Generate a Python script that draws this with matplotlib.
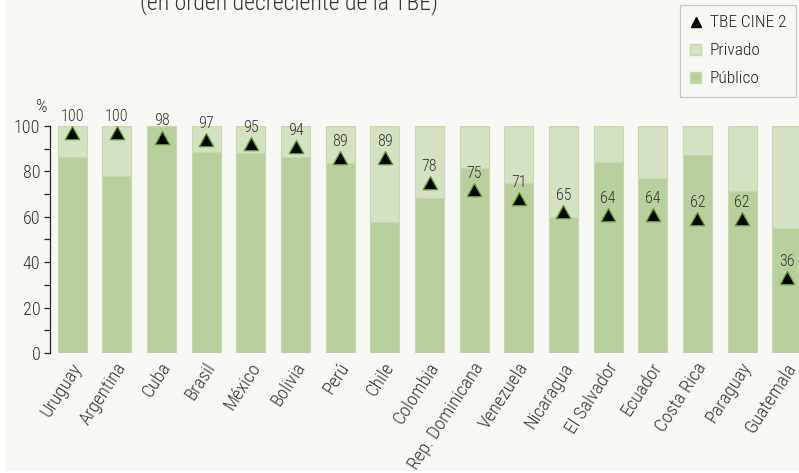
import numpy as np
import matplotlib.pyplot as plt
from matplotlib.path import Path
from matplotlib.lines import Line2D
from matplotlib.patches import Patch, Rectangle
from matplotlib.transforms import ScaledTranslation

plt.rcParams['font.family'] = ['Roboto Condensed', 'PT Sans Narrow', 'Archivo Narrow',
                               'Liberation Sans Narrow', 'DejaVu Sans']
plt.rcParams['font.weight'] = 'light'

paises = ['Uruguay', 'Argentina', 'Cuba', 'Brasil', 'México', 'Bolivia', 'Perú',
          'Chile', 'Colombia', 'Rep. Dominicana', 'Venezuela', 'Nicaragua',
          'El Salvador', 'Ecuador', 'Costa Rica', 'Paraguay', 'Guatemala']
publico = [86.2, 78.0, 100.0, 88.6, 87.9, 86.2, 83.6, 57.7, 68.5, 81.4, 74.8,
           59.9, 84.2, 77.0, 87.1, 71.3, 54.9]
tbe = [100, 100, 98, 97, 95, 94, 89, 89, 78, 75, 71, 65, 64, 64, 62, 62, 36]

publico = np.array(publico)
privado = 100 - publico
x = np.arange(len(paises))

c_pub = '#b9d09e'
c_priv = '#d4e1c3'
c_edge = '#c6d8b0'
bg = '#f7f7f3'

fig = plt.figure(figsize=(7.99, 4.73), dpi=100, facecolor='white')
fig.patches.append(Rectangle((6 / 799, 2 / 473), 1, 1, transform=fig.transFigure,
                             facecolor=bg, edgecolor='none', zorder=-10))
ax = fig.add_axes([50 / 799, 120 / 473, 759 / 799, 227 / 473])
ax.set_facecolor('none')

ax.bar(x, publico, width=0.65, color=c_pub, edgecolor=c_edge, linewidth=0.8)
ax.bar(x, privado, bottom=publico, width=0.65, color=c_priv, edgecolor=c_edge,
       linewidth=0.8)

# triangulo con el vertice superior en el valor
tri = Path([(-0.55, -1.0), (0.55, -1.0), (0.0, 0.0), (-0.55, -1.0)],
           [Path.MOVETO, Path.LINETO, Path.LINETO, Path.CLOSEPOLY])
ax.plot(x, tbe, linestyle='none', marker=tri, markersize=19, color='black',
        markeredgecolor='#5e9e2e', markeredgewidth=0.9, clip_on=False)
for xi, v in zip(x, tbe):
    ax.annotate(str(v), (xi, v), xytext=(0, 1.5), textcoords='offset points',
                ha='center', va='bottom', fontsize=11.5, color='#333333',
                annotation_clip=False)

ax.set_xlim(-0.5, len(paises) - 0.5)
ax.set_ylim(0, 100)
ax.set_yticks(np.arange(0, 101, 20))
ax.set_yticks(np.arange(0, 101, 10), minor=True)
ax.tick_params(axis='y', which='both', length=4, width=0.9, colors='#222222',
               labelsize=13, pad=3)
ax.tick_params(axis='y', which='major', labelcolor='#333333')
ax.set_xticks(x)
ax.set_xticklabels(paises, rotation=57, ha='right', va='center',
                   rotation_mode='anchor', fontsize=13.5, color='#333333')
ax.tick_params(axis='x', length=0, pad=8)
# corre un poco las etiquetas a la derecha
shift = ScaledTranslation(4 / 72, 0, fig.dpi_scale_trans)
for lab in ax.get_xticklabels():
    lab.set_transform(lab.get_transform() + shift)
for s in ['top', 'right', 'bottom']:
    ax.spines[s].set_visible(False)
ax.spines['left'].set_color('#222222')
ax.spines['left'].set_linewidth(0.9)

fig.text(42 / 799, 1 - 107 / 473, '%', fontsize=13, color='#333333',
         ha='center', va='center')
fig.text(289 / 799, 1 - 9.5 / 473, '(en orden decreciente de la TBE)',
         fontsize=17, color='#333333', ha='center', va='baseline')

handles = [
    Line2D([], [], linestyle='none', marker='^', color='black', markersize=7.5),
    Patch(facecolor=c_priv, edgecolor=c_edge),
    Patch(facecolor=c_pub, edgecolor=c_edge),
]
leg = fig.legend(handles, ['TBE CINE 2', 'Privado', 'Público'],
                 loc='upper left', bbox_to_anchor=(680 / 799, 1 - 5 / 473),
                 frameon=True, fancybox=False, fontsize=12.5, handlelength=0.6,
                 handleheight=0.6, handletextpad=0.5, labelspacing=0.75,
                 borderpad=0.6, borderaxespad=0)
leg.get_frame().set_edgecolor('#bdbdbd')
leg.get_frame().set_facecolor(bg)
leg.get_frame().set_linewidth(0.9)
for t in leg.get_texts():
    t.set_color('#222222')

fig.savefig('out.png', dpi=100, facecolor=fig.get_facecolor())
